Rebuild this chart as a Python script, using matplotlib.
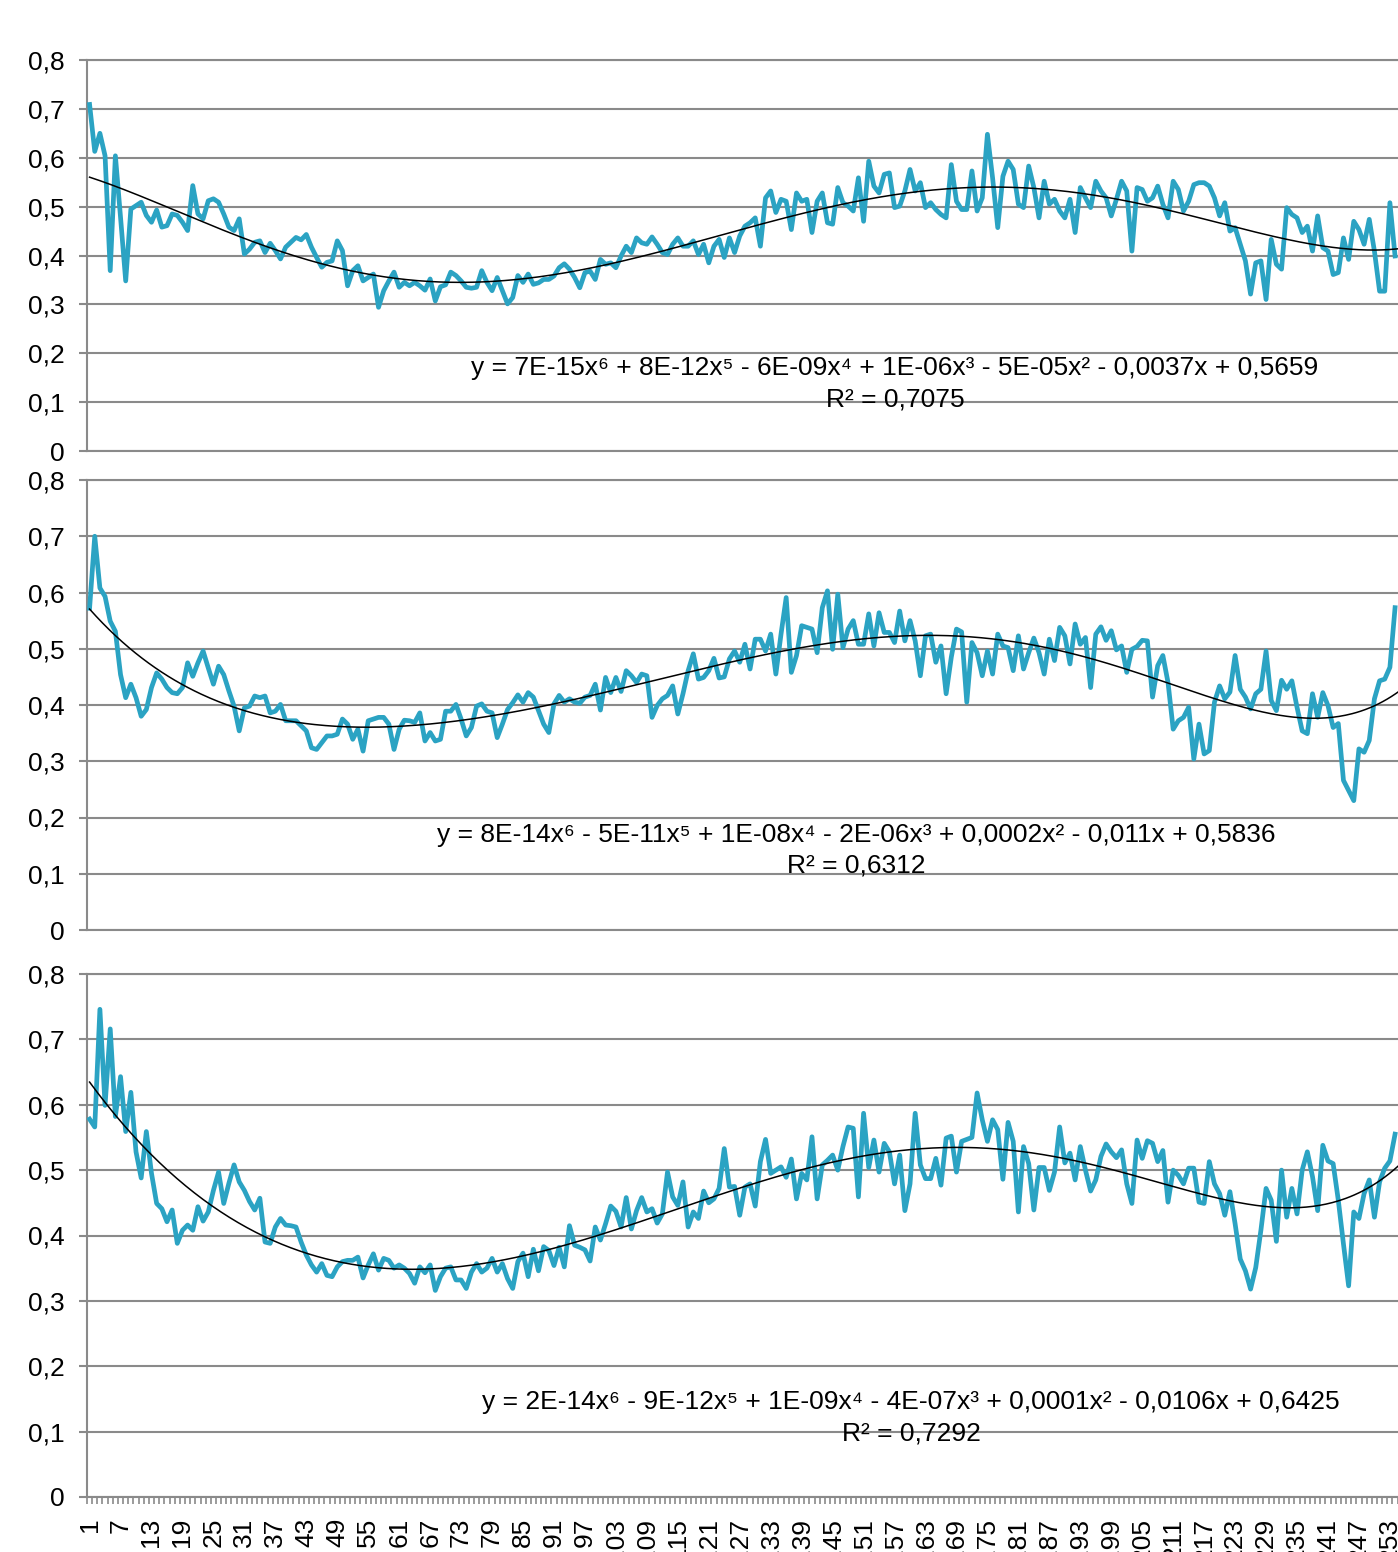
import numpy as np
import matplotlib
matplotlib.use("Agg")
import matplotlib.pyplot as plt
from matplotlib.ticker import FuncFormatter, FixedLocator

plt.rcParams['font.family'] = ['Liberation Sans', 'DejaVu Sans']

##############################################################################################
# values, one per category 1..254 (the rest is cut off on the right)
series_top = [
    0.709, 0.613, 0.650, 0.604, 0.369, 0.604, 0.478, 0.348, 0.495, 0.502,
    0.509, 0.482, 0.468, 0.493, 0.458, 0.461, 0.485, 0.482, 0.468, 0.451,
    0.543, 0.485, 0.475, 0.512, 0.516, 0.509, 0.485, 0.458, 0.451, 0.475,
    0.403, 0.413, 0.427, 0.430, 0.406, 0.425, 0.410, 0.393, 0.417, 0.427,
    0.437, 0.432, 0.443, 0.417, 0.396, 0.376, 0.386, 0.389, 0.430, 0.410,
    0.338, 0.369, 0.379, 0.348, 0.355, 0.362, 0.294, 0.328, 0.348, 0.366,
    0.335, 0.345, 0.338, 0.345, 0.338, 0.329, 0.352, 0.307, 0.336, 0.340,
    0.366, 0.359, 0.348, 0.335, 0.333, 0.335, 0.369, 0.345, 0.328, 0.355,
    0.328, 0.301, 0.314, 0.359, 0.345, 0.362, 0.341, 0.344, 0.351, 0.351,
    0.358, 0.375, 0.383, 0.372, 0.355, 0.334, 0.365, 0.368, 0.351, 0.392,
    0.382, 0.385, 0.375, 0.399, 0.419, 0.406, 0.436, 0.426, 0.423, 0.438,
    0.423, 0.406, 0.402, 0.423, 0.436, 0.419, 0.419, 0.430, 0.402, 0.423,
    0.385, 0.419, 0.433, 0.396, 0.436, 0.406, 0.440, 0.460, 0.467, 0.477,
    0.419, 0.518, 0.532, 0.488, 0.515, 0.511, 0.453, 0.528, 0.511, 0.515,
    0.447, 0.511, 0.528, 0.467, 0.464, 0.539, 0.508, 0.501, 0.491, 0.559,
    0.470, 0.593, 0.542, 0.528, 0.566, 0.569, 0.498, 0.501, 0.532, 0.576,
    0.532, 0.549, 0.498, 0.508, 0.494, 0.484, 0.477, 0.586, 0.511, 0.494,
    0.494, 0.573, 0.491, 0.518, 0.648, 0.559, 0.457, 0.562, 0.593, 0.576,
    0.505, 0.498, 0.583, 0.539, 0.477, 0.552, 0.505, 0.515, 0.491, 0.477,
    0.515, 0.447, 0.539, 0.518, 0.498, 0.552, 0.532, 0.518, 0.481, 0.515,
    0.552, 0.532, 0.409, 0.539, 0.535, 0.511, 0.518, 0.542, 0.505, 0.477,
    0.552, 0.535, 0.491, 0.511, 0.545, 0.549, 0.549, 0.542, 0.518, 0.481,
    0.508, 0.450, 0.457, 0.423, 0.389, 0.321, 0.385, 0.389, 0.310, 0.433,
    0.382, 0.372, 0.498, 0.484, 0.477, 0.447, 0.460, 0.409, 0.481, 0.416,
    0.409, 0.361, 0.365, 0.436, 0.392, 0.470, 0.453, 0.423, 0.474, 0.409,
    0.327, 0.327, 0.508, 0.399,
]

series_mid = [
    0.572, 0.700, 0.608, 0.593, 0.549, 0.531, 0.454, 0.413, 0.437, 0.413,
    0.380, 0.392, 0.431, 0.457, 0.446, 0.431, 0.422, 0.420, 0.431, 0.475,
    0.451, 0.475, 0.496, 0.466, 0.437, 0.469, 0.454, 0.425, 0.398, 0.354,
    0.395, 0.398, 0.416, 0.413, 0.416, 0.386, 0.389, 0.401, 0.372, 0.372,
    0.372, 0.363, 0.354, 0.324, 0.321, 0.333, 0.345, 0.345, 0.348, 0.375,
    0.366, 0.339, 0.357, 0.318, 0.372, 0.375, 0.378, 0.378, 0.366, 0.321,
    0.357, 0.373, 0.372, 0.369, 0.386, 0.336, 0.351, 0.336, 0.339, 0.389,
    0.389, 0.401, 0.375, 0.345, 0.360, 0.398, 0.402, 0.389, 0.386, 0.342,
    0.366, 0.392, 0.404, 0.418, 0.405, 0.422, 0.414, 0.390, 0.366, 0.351,
    0.402, 0.417, 0.405, 0.411, 0.405, 0.403, 0.414, 0.417, 0.437, 0.391,
    0.449, 0.422, 0.449, 0.424, 0.461, 0.452, 0.440, 0.455, 0.452, 0.378,
    0.399, 0.411, 0.417, 0.434, 0.384, 0.420, 0.461, 0.491, 0.446, 0.449,
    0.461, 0.483, 0.448, 0.450, 0.482, 0.496, 0.476, 0.508, 0.464, 0.517,
    0.517, 0.496, 0.526, 0.455, 0.526, 0.591, 0.458, 0.488, 0.541, 0.538,
    0.535, 0.493, 0.573, 0.603, 0.499, 0.597, 0.502, 0.535, 0.550, 0.508,
    0.508, 0.562, 0.505, 0.564, 0.529, 0.529, 0.511, 0.567, 0.514, 0.550,
    0.514, 0.452, 0.523, 0.526, 0.476, 0.505, 0.420, 0.485, 0.535, 0.530,
    0.405, 0.511, 0.493, 0.452, 0.496, 0.455, 0.526, 0.505, 0.502, 0.461,
    0.523, 0.464, 0.493, 0.519, 0.493, 0.455, 0.517, 0.479, 0.538, 0.523,
    0.473, 0.544, 0.508, 0.520, 0.431, 0.526, 0.539, 0.515, 0.532, 0.498,
    0.505, 0.458, 0.499, 0.504, 0.515, 0.514, 0.414, 0.470, 0.488, 0.440,
    0.357, 0.372, 0.378, 0.396, 0.304, 0.366, 0.313, 0.319, 0.405, 0.434,
    0.411, 0.423, 0.488, 0.428, 0.414, 0.393, 0.420, 0.428, 0.496, 0.408,
    0.390, 0.444, 0.428, 0.443, 0.396, 0.354, 0.349, 0.420, 0.378, 0.422,
    0.399, 0.360, 0.367, 0.266, 0.248, 0.230, 0.322, 0.316, 0.337, 0.411,
    0.443, 0.446, 0.467, 0.573,
]

series_bot = [
    0.578, 0.566, 0.746, 0.599, 0.716, 0.582, 0.643, 0.559, 0.619, 0.528,
    0.488, 0.559, 0.495, 0.449, 0.441, 0.421, 0.439, 0.388, 0.408, 0.416,
    0.408, 0.444, 0.422, 0.436, 0.469, 0.497, 0.449, 0.480, 0.508, 0.482,
    0.469, 0.452, 0.439, 0.457, 0.390, 0.388, 0.413, 0.426, 0.416, 0.415,
    0.413, 0.390, 0.370, 0.355, 0.344, 0.357, 0.339, 0.337, 0.352, 0.360,
    0.362, 0.362, 0.367, 0.335, 0.355, 0.372, 0.347, 0.365, 0.362, 0.350,
    0.355, 0.350, 0.342, 0.327, 0.352, 0.343, 0.355, 0.316, 0.337, 0.350,
    0.352, 0.332, 0.332, 0.319, 0.344, 0.357, 0.344, 0.350, 0.365, 0.344,
    0.357, 0.334, 0.319, 0.360, 0.373, 0.337, 0.379, 0.346, 0.383, 0.377,
    0.354, 0.382, 0.352, 0.415, 0.385, 0.382, 0.378, 0.361, 0.413, 0.393,
    0.418, 0.445, 0.437, 0.413, 0.458, 0.410, 0.438, 0.458, 0.436, 0.441,
    0.419, 0.433, 0.497, 0.459, 0.446, 0.482, 0.413, 0.436, 0.426, 0.468,
    0.450, 0.456, 0.472, 0.533, 0.474, 0.475, 0.431, 0.474, 0.479, 0.445,
    0.513, 0.547, 0.495, 0.500, 0.505, 0.489, 0.517, 0.456, 0.495, 0.485,
    0.551, 0.456, 0.508, 0.515, 0.523, 0.500, 0.536, 0.566, 0.564, 0.459,
    0.587, 0.504, 0.546, 0.497, 0.541, 0.528, 0.479, 0.523, 0.438, 0.479,
    0.587, 0.508, 0.487, 0.487, 0.518, 0.477, 0.549, 0.552, 0.497, 0.544,
    0.547, 0.550, 0.618, 0.577, 0.544, 0.577, 0.562, 0.486, 0.573, 0.544,
    0.436, 0.536, 0.510, 0.439, 0.504, 0.504, 0.469, 0.497, 0.566, 0.511,
    0.526, 0.485, 0.536, 0.500, 0.468, 0.485, 0.521, 0.540, 0.528, 0.519,
    0.531, 0.479, 0.449, 0.546, 0.518, 0.545, 0.541, 0.513, 0.530, 0.451,
    0.500, 0.492, 0.479, 0.503, 0.503, 0.451, 0.449, 0.513, 0.479, 0.464,
    0.431, 0.467, 0.418, 0.364, 0.346, 0.318, 0.351, 0.408, 0.472, 0.454,
    0.391, 0.500, 0.428, 0.472, 0.433, 0.500, 0.528, 0.490, 0.438, 0.538,
    0.514, 0.510, 0.454, 0.387, 0.323, 0.436, 0.426, 0.464, 0.485, 0.428,
    0.482, 0.503, 0.514, 0.555,
]

# trendline labels as printed on the chart
equations = [
    "y = 7E-15x\u2076 + 8E-12x\u2075 - 6E-09x\u2074 + 1E-06x\u00b3 - 5E-05x\u00b2 - 0,0037x + 0,5659",
    "y = 8E-14x\u2076 - 5E-11x\u2075 + 1E-08x\u2074 - 2E-06x\u00b3 + 0,0002x\u00b2 - 0,011x + 0,5836",
    "y = 2E-14x\u2076 - 9E-12x\u2075 + 1E-09x\u2074 - 4E-07x\u00b3 + 0,0001x\u00b2 - 0,0106x + 0,6425",
]
r_squared = ["R\u00b2 = 0,7075", "R\u00b2 = 0,6312", "R\u00b2 = 0,7292"]

y_ticks = [0, 0.1, 0.2, 0.3, 0.4, 0.5, 0.6, 0.7, 0.8]
label_step = 6
##############################################################################################

W, H = 1398, 1552
TEAL = "#2ba3c3"
GRID = "#8a8a8a"
FS = 19

# panel boxes in pixels: (top, bottom)
panels = [(60, 451), (480, 930), (974, 1497)]
left_px = 87
step_px = 5.16
# text centres in pixels: (x, y_equation, y_r2)
text_pos = [(895, 368, 400), (856, 835, 866), (911, 1402, 1433)]


def comma(v, pos):
    s = "%g" % round(v, 1)
    return s.replace(".", ",")


def trend(x, y, xs):
    # 6th order polynomial trendline, like the spreadsheet one
    p = np.polynomial.Polynomial.fit(x, y, 6)
    return p(xs)


fig = plt.figure(figsize=(W / 100, H / 100), dpi=100)
x_right = 0.5 + (W - left_px) / step_px

all_series = [series_top, series_mid, series_bot]
for i, (top, bot) in enumerate(panels):
    ax = fig.add_axes([left_px / W, 1 - bot / H, (W - left_px) / W, (bot - top) / H])
    y = np.array(all_series[i])
    x = np.arange(1, len(y) + 1)

    ax.plot(x, y, color=TEAL, lw=3.4, solid_joinstyle="round", zorder=3)
    xs = np.linspace(1, x_right, 600)
    ax.plot(xs, trend(x, y, xs), color="black", lw=1.1, zorder=4)

    ax.set_xlim(0.5, x_right)
    ax.set_ylim(0, 0.8)
    ax.set_yticks(y_ticks)
    ax.yaxis.set_major_formatter(FuncFormatter(comma))
    ax.grid(axis="y", color=GRID, lw=1.5)
    ax.set_axisbelow(True)
    ax.tick_params(axis="y", length=6, width=1.5, color=GRID, labelsize=FS, pad=10)

    ax.spines["right"].set_visible(False)
    for side in ["left", "bottom", "top"]:
        ax.spines[side].set_color(GRID)
        ax.spines[side].set_linewidth(1.5)

    if i == 2:
        # category ticks between points, labels on every 6th category
        ax.xaxis.set_minor_locator(FixedLocator(np.arange(0.5, 260, 1.0)))
        ax.set_xticks(np.arange(1, 256, label_step))
        ax.set_xticklabels([str(k) for k in range(1, 256, label_step)], rotation=90)
        ax.tick_params(axis="x", which="major", length=0, labelsize=FS, pad=15)
        ax.tick_params(axis="x", which="minor", length=5, width=1.2, color=GRID)
    else:
        ax.set_xticks([])

    tx, ty1, ty2 = text_pos[i]
    fig.text(tx / W, 1 - ty1 / H, equations[i], ha="center", va="center", fontsize=FS)
    fig.text(tx / W, 1 - ty2 / H, r_squared[i], ha="center", va="center", fontsize=FS)

fig.savefig("out.png", dpi=100)
